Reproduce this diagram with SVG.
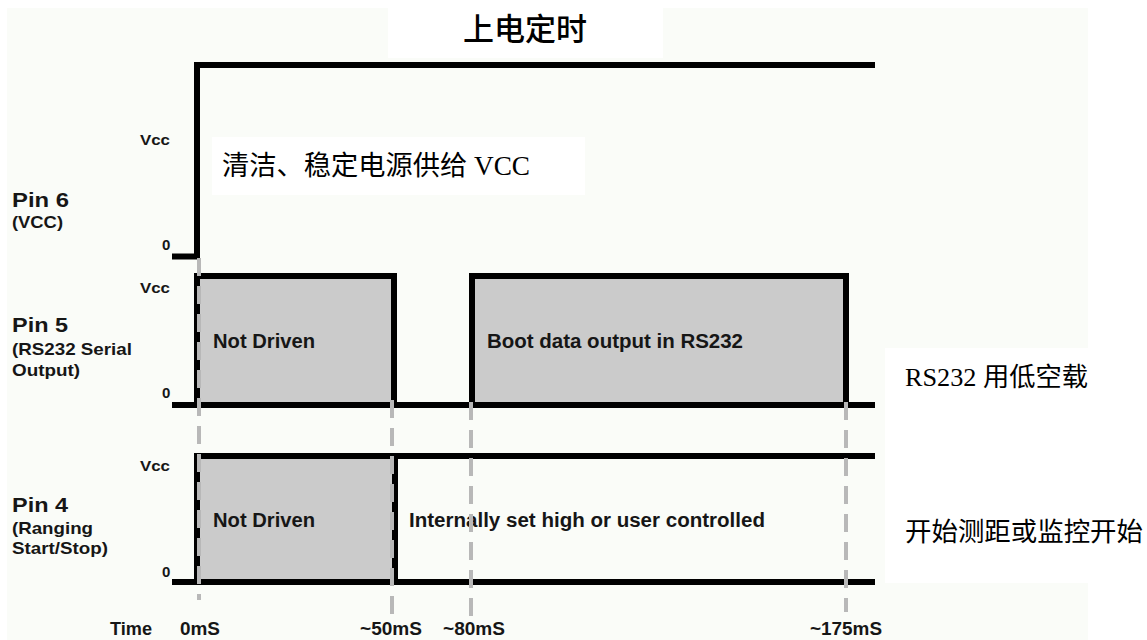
<svg xmlns="http://www.w3.org/2000/svg" width="1147" height="640" viewBox="0 0 1147 640">
<style>
.sig{fill:none;stroke:#000;stroke-width:6;stroke-linejoin:miter;stroke-linecap:butt}
.box{fill:#cbcbcb;stroke:none}
.mk{fill:none;stroke:#b8b8b8;stroke-width:4;stroke-dasharray:18 10}
.lbl{font-family:"Liberation Sans",Arial,sans-serif;font-weight:bold;fill:#161616}
.pin{font-size:21px}
.sub{font-size:17px}
.lv{font-size:15px}
.in{font-size:20px}
.tm{font-size:19px}
.cn{font-family:"Liberation Serif","Noto Sans CJK SC",serif;fill:#000}
</style>
<rect x="0" y="0" width="1147" height="640" fill="#ffffff"/>
<rect x="7" y="8" width="1081" height="632" fill="#fafcf8"/>
<rect x="388" y="0" width="275" height="58" fill="#ffffff"/>
<rect x="212" y="137" width="373" height="58" fill="#ffffff"/>
<rect x="885" y="348" width="262" height="235" fill="#ffffff"/>

<g id="title"><text x="525" y="40" text-anchor="middle" font-family="'Noto Sans CJK SC',sans-serif" font-size="31" font-weight="500" fill="#000">上电定时</text></g>

<g id="pin6">
<text class="lbl pin" x="12" y="207" textLength="57" lengthAdjust="spacingAndGlyphs">Pin 6</text>
<text class="lbl sub" x="12" y="228" textLength="51" lengthAdjust="spacingAndGlyphs">(VCC)</text>
<text class="lbl lv" x="140" y="145" textLength="30" lengthAdjust="spacingAndGlyphs">Vcc</text>
<text class="lbl lv" x="162" y="250">0</text>
<path class="sig" d="M172,256.5 H197 V65 H875"/>
</g>

<g id="pin5">
<text class="lbl pin" x="12" y="332" textLength="56" lengthAdjust="spacingAndGlyphs">Pin 5</text>
<text class="lbl sub" x="12" y="355" textLength="120" lengthAdjust="spacingAndGlyphs">(RS232 Serial</text>
<text class="lbl sub" x="12" y="376" textLength="68" lengthAdjust="spacingAndGlyphs">Output)</text>
<text class="lbl lv" x="140" y="293" textLength="30" lengthAdjust="spacingAndGlyphs">Vcc</text>
<text class="lbl lv" x="162" y="398">0</text>
<rect class="box" x="197" y="276" width="197" height="129"/>
<rect class="box" x="472" y="276" width="374" height="129"/>
<path class="sig" d="M172,405 H875 M197,405 V276 H394 V405 M472,405 V276 H846 V405"/>
<text class="lbl in" x="213" y="348" textLength="102" lengthAdjust="spacingAndGlyphs">Not Driven</text>
<text class="lbl in" x="487" y="348" textLength="256" lengthAdjust="spacingAndGlyphs">Boot data output in RS232</text>
</g>

<g id="pin4">
<text class="lbl pin" x="12" y="512" textLength="56" lengthAdjust="spacingAndGlyphs">Pin 4</text>
<text class="lbl sub" x="12" y="534" textLength="81" lengthAdjust="spacingAndGlyphs">(Ranging</text>
<text class="lbl sub" x="12" y="554" textLength="96" lengthAdjust="spacingAndGlyphs">Start/Stop)</text>
<text class="lbl lv" x="140" y="471" textLength="30" lengthAdjust="spacingAndGlyphs">Vcc</text>
<text class="lbl lv" x="162" y="577">0</text>
<rect class="box" x="197" y="456" width="197" height="126"/>
<path class="sig" d="M172,582 H875 M197,582 V456 H875 M395,456 V582"/>
<text class="lbl in" x="213" y="527" textLength="102" lengthAdjust="spacingAndGlyphs">Not Driven</text>
<text class="lbl in" x="409" y="527" textLength="356" lengthAdjust="spacingAndGlyphs">Internally set high or user controlled</text>
</g>

<g id="connectors">
<path class="mk" d="M199,258 V600"/>
<path class="mk" d="M392,400 V618"/>
<path class="mk" d="M471,402 V620"/>
<path class="mk" d="M846,402 V612"/>
</g>

<g id="time-axis">
<text class="lbl tm" x="110" y="635" textLength="42" lengthAdjust="spacingAndGlyphs">Time</text>
<text class="lbl tm" x="180" y="635" textLength="40" lengthAdjust="spacingAndGlyphs">0mS</text>
<text class="lbl tm" x="360" y="635" textLength="62" lengthAdjust="spacingAndGlyphs">~50mS</text>
<text class="lbl tm" x="443" y="635" textLength="62" lengthAdjust="spacingAndGlyphs">~80mS</text>
<text class="lbl tm" x="810" y="635" textLength="72" lengthAdjust="spacingAndGlyphs">~175mS</text>
</g>

<g id="annotations">
<text class="cn" x="222" y="175" font-size="27" textLength="308" lengthAdjust="spacingAndGlyphs">清洁、稳定电源供给 VCC</text>
<text class="cn" x="905" y="386" font-size="26" textLength="183" lengthAdjust="spacingAndGlyphs">RS232 用低空载</text>
<text class="cn" x="905" y="541" font-size="26" textLength="238" lengthAdjust="spacingAndGlyphs">开始测距或监控开始</text>
</g>
</svg>
